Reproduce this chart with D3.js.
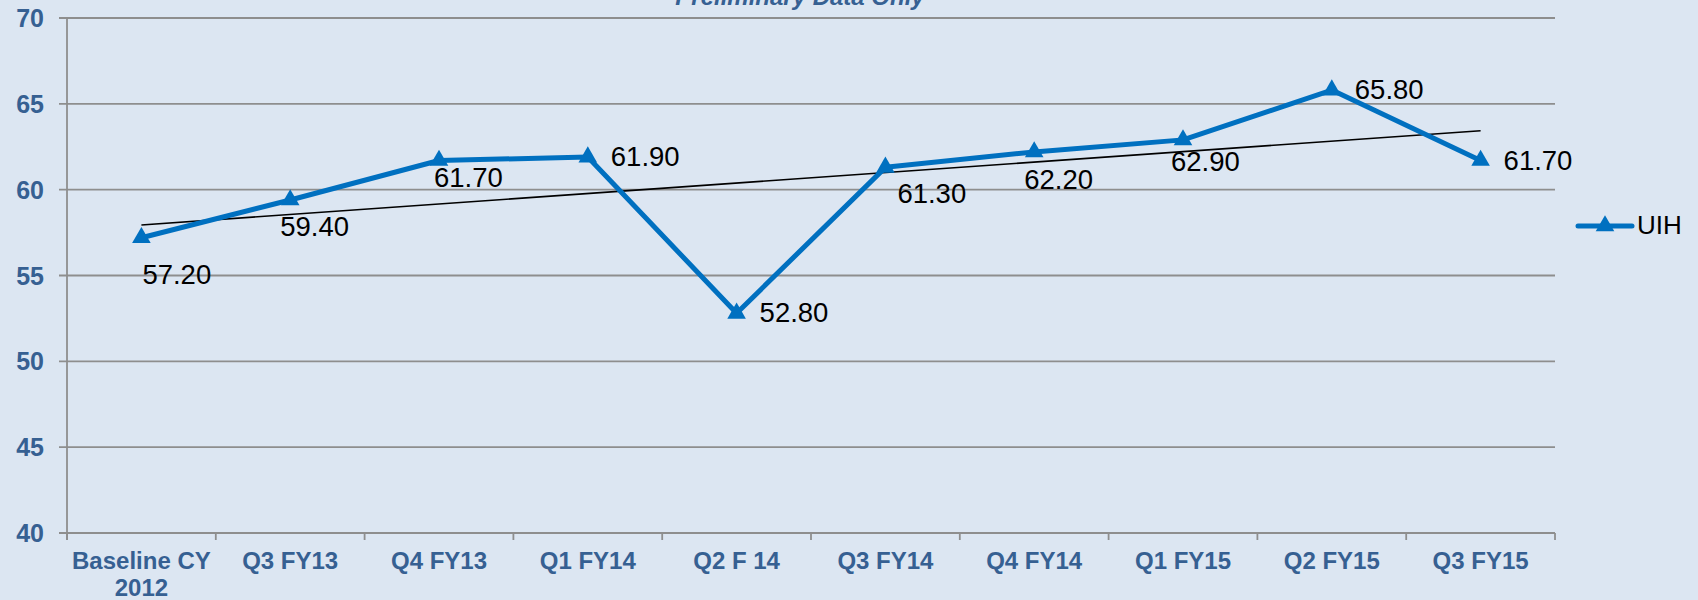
<!DOCTYPE html>
<html>
<head>
<meta charset="utf-8">
<script src="https://cdn.jsdelivr.net/npm/d3@7"></script>
<style>
  body { margin: 0; background: #dce6f2; }
  text { font-family: "Liberation Sans", Arial, sans-serif; }
</style>
</head>
<body>
<svg id="chart" width="1698" height="600"></svg>
<script>
// data
const categories = ['Baseline CY\n2012', 'Q3 FY13', 'Q4 FY13', 'Q1 FY14', 'Q2 F 14',
  'Q3 FY14', 'Q4 FY14', 'Q1 FY15', 'Q2 FY15', 'Q3 FY15'];
const uihValues = [57.2, 59.4, 61.7, 61.9, 52.8, 61.3, 62.2, 62.9, 65.8, 61.7];
const yTicks = [40, 45, 50, 55, 60, 65, 70];
const seriesName = 'UIH';
const titleText = 'Preliminary Data Only';

// where each value label sits relative to its point (dx to text left, dy to baseline)
const labelOffsets = [[1, 46], [-10, 36], [-5, 27], [23, 9], [23, 9],
  [12, 36], [-10, 37], [-12, 31], [23, 9], [23, 10]];

const svg = d3.select('#chart');
const width = +svg.attr('width');
const height = +svg.attr('height');

const blue = '#0070c0';
const axisText = '#366092';
const gridColor = '#8e8e8e';

const plotLeft = 67, plotRight = 1555, plotTop = 18, plotBottom = 533;

svg.append('rect')
  .attr('width', width)
  .attr('height', height)
  .attr('fill', '#dce6f2');

const x = d3.scaleBand()
  .domain(categories)
  .range([plotLeft, plotRight]);

const y = d3.scaleLinear()
  .domain([40, 70])
  .range([plotBottom, plotTop]);

const cx = d => x(d) + x.bandwidth() / 2;

// gridlines (including the ticks that stick out to the left)
svg.append('g')
  .selectAll('line')
  .data(yTicks)
  .enter()
  .append('line')
  .attr('x1', plotLeft - 8)
  .attr('x2', plotRight)
  .attr('y1', d => y(d))
  .attr('y2', d => y(d))
  .attr('stroke', gridColor)
  .attr('stroke-width', 1.8);

// y axis line
svg.append('line')
  .attr('x1', plotLeft).attr('x2', plotLeft)
  .attr('y1', y(70)).attr('y2', plotBottom + 7)
  .attr('stroke', gridColor)
  .attr('stroke-width', 1.8);

// y tick labels
svg.append('g')
  .selectAll('text')
  .data(yTicks)
  .enter()
  .append('text')
  .attr('x', 44)
  .attr('y', d => y(d) + 9)
  .attr('text-anchor', 'end')
  .attr('font-size', 25)
  .attr('font-weight', 'bold')
  .attr('fill', axisText)
  .text(d => d);

// x ticks at band edges
const edges = categories.map(c => x(c)).concat([plotRight]);
svg.append('g')
  .selectAll('line')
  .data(edges)
  .enter()
  .append('line')
  .attr('x1', d => d).attr('x2', d => d)
  .attr('y1', plotBottom).attr('y2', plotBottom + 7)
  .attr('stroke', gridColor)
  .attr('stroke-width', 1.8);

// x labels
const xl = svg.append('g')
  .selectAll('text')
  .data(categories)
  .enter()
  .append('text')
  .attr('text-anchor', 'middle')
  .attr('font-size', 24)
  .attr('font-weight', 'bold')
  .attr('fill', axisText);

xl.selectAll('tspan')
  .data(d => d.split('\n').map(t => ({ t: t, c: d })))
  .enter()
  .append('tspan')
  .attr('x', d => cx(d.c))
  .attr('y', (d, i) => 569 + i * 27)
  .text(d => d.t);

// title (sits mostly off the top edge, as in the original)
svg.append('text')
  .attr('x', 800)
  .attr('y', 5)
  .attr('text-anchor', 'middle')
  .attr('font-size', 24)
  .attr('font-weight', 'bold')
  .attr('font-style', 'italic')
  .attr('fill', axisText)
  .text(titleText);

// linear trendline
const n = uihValues.length;
const xs = d3.range(n);
const mx = d3.mean(xs), my = d3.mean(uihValues);
const slope = d3.sum(xs, i => (i - mx) * (uihValues[i] - my)) / d3.sum(xs, i => (i - mx) * (i - mx));
const icpt = my - slope * mx;

svg.append('line')
  .attr('x1', cx(categories[0]))
  .attr('y1', y(icpt))
  .attr('x2', cx(categories[n - 1]))
  .attr('y2', y(icpt + slope * (n - 1)))
  .attr('stroke', '#000')
  .attr('stroke-width', 1.6);

// series line
const line = d3.line()
  .x((d, i) => cx(categories[i]))
  .y(d => y(d));

svg.append('path')
  .datum(uihValues)
  .attr('d', line)
  .attr('fill', 'none')
  .attr('stroke', blue)
  .attr('stroke-width', 5)
  .attr('stroke-linejoin', 'round');

const tri = d3.symbol(d3.symbolTriangle, 150);

svg.append('g')
  .selectAll('path')
  .data(uihValues)
  .enter()
  .append('path')
  .attr('d', tri)
  .attr('transform', (d, i) => 'translate(' + cx(categories[i]) + ',' + y(d) + ')')
  .attr('fill', blue);

// value labels
svg.append('g')
  .selectAll('text')
  .data(uihValues)
  .enter()
  .append('text')
  .attr('x', (d, i) => cx(categories[i]) + labelOffsets[i][0])
  .attr('y', (d, i) => y(d) + labelOffsets[i][1])
  .attr('font-size', 27.5)
  .attr('fill', '#000')
  .text(d => d.toFixed(2));

// legend
const lg = svg.append('g').attr('transform', 'translate(1578,226)');
lg.append('line')
  .attr('x1', 0).attr('x2', 54)
  .attr('stroke', blue)
  .attr('stroke-width', 5)
  .attr('stroke-linecap', 'round');
lg.append('path')
  .attr('d', tri)
  .attr('transform', 'translate(27,0)')
  .attr('fill', blue);
lg.append('text')
  .attr('x', 59)
  .attr('y', 8)
  .attr('font-size', 26)
  .attr('fill', '#000')
  .text(seriesName);
</script>
</body>
</html>
